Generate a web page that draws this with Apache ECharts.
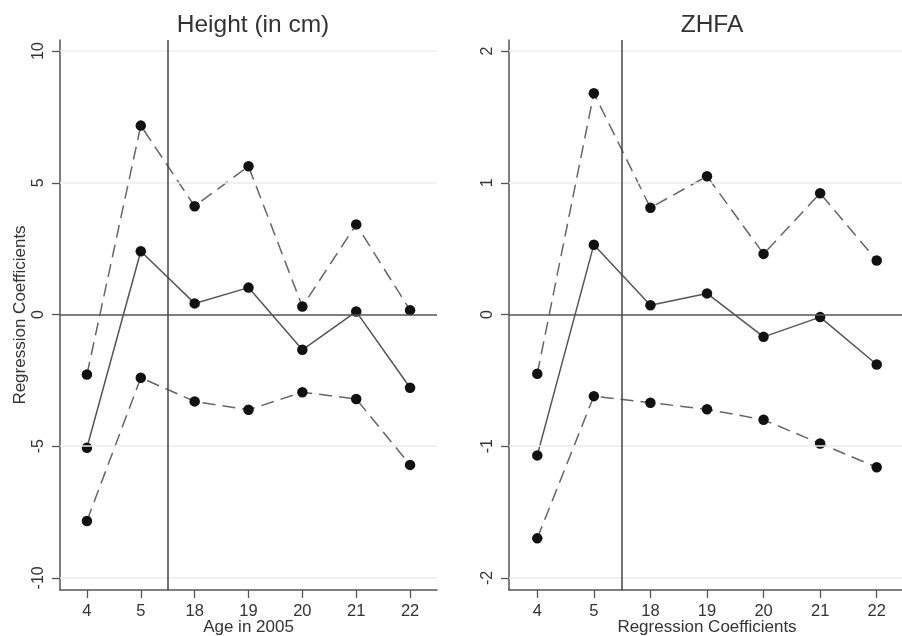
<!DOCTYPE html>
<html>
<head>
<meta charset="utf-8">
<script src="https://cdn.jsdelivr.net/npm/echarts@6/dist/echarts.min.js"></script>
<style>
html,body{margin:0;padding:0;background:#fff;}
#chart{width:902px;height:636px;}
</style>
</head>
<body>
<div id="chart"></div>
<script>
// ---- data ----
const categories = ['4', '5', '18', '19', '20', '21', '22'];
const heightUpper = [-2.28, 7.17, 4.11, 5.63, 0.30, 3.42, 0.16];
const heightMid   = [-5.06, 2.40, 0.42, 1.02, -1.34, 0.11, -2.78];
const heightLower = [-7.84, -2.40, -3.30, -3.62, -2.95, -3.21, -5.71];
const zhfaUpper = [-0.45, 1.68, 0.81, 1.05, 0.46, 0.92, 0.41];
const zhfaMid   = [-1.07, 0.53, 0.07, 0.16, -0.17, -0.02, -0.38];
const zhfaLower = [-1.70, -0.62, -0.67, -0.72, -0.80, -0.98, -1.16];
const heightTicks = [-10, -5, 0, 5, 10];
const zhfaTicks = [-2, -1, 0, 1, 2];
const dividerPos = 1.5; // between "5" and "18"
const titles = ['Height (in cm)', 'ZHFA'];
const xNames = ['Age in 2005', 'Regression Coefficients'];
const yName = 'Regression Coefficients';

// ---- build ----
const FONT = 'Liberation Sans';
const catIdx = categories.map((c, i) => i);
const pts = arr => arr.map((v, i) => [i, v]);

function makeX(gi, name) {
  return {
    type: 'value', gridIndex: gi, min: -0.5, max: categories.length - 0.5,
    name: name, nameLocation: 'middle', nameGap: 29, nameMoveOverlap: false,
    nameTextStyle: { fontFamily: FONT, fontSize: 17, color: '#333' },
    axisLine: { show: true, onZero: false, lineStyle: { color: '#555', width: 1.5 } },
    axisTick: { show: true, length: 8, customValues: catIdx, lineStyle: { color: '#555', width: 1.3 } },
    axisLabel: { customValues: catIdx, formatter: v => categories[Math.round(v)], fontFamily: FONT, fontSize: 16.5, color: '#333', margin: 13 },
    splitLine: { show: false }
  };
}
function makeY(gi, ticks, min, max, name) {
  return {
    type: 'value', gridIndex: gi, min: min, max: max,
    name: name || '', nameLocation: 'middle', nameGap: 31, nameRotate: 90, nameMoveOverlap: false,
    nameTextStyle: { fontFamily: FONT, fontSize: 17, color: '#333' },
    axisLine: { show: true, onZero: false, lineStyle: { color: '#555', width: 1.5 } },
    axisTick: { show: true, length: 8, customValues: ticks, lineStyle: { color: '#555', width: 1.3 } },
    axisLabel: { customValues: ticks, rotate: 90, fontFamily: FONT, fontSize: 16, color: '#333', margin: 13 },
    splitLine: { show: false }
  };
}
function refSeries(gi, ticks) {
  const data = ticks.filter(t => t !== 0).map(t => ({ yAxis: t, lineStyle: { color: '#ececec', width: 1.5, type: 'solid' } }));
  data.push({ yAxis: 0, lineStyle: { color: '#555', width: 1.5, type: 'solid' } });
  data.push({ xAxis: dividerPos, lineStyle: { color: '#444', width: 1.5, type: 'solid' } });
  return {
    type: 'line', xAxisIndex: gi, yAxisIndex: gi, data: [], z: 1, silent: true,
    markLine: { silent: true, symbol: ['none', 'none'], label: { show: false }, animation: false, data: data }
  };
}
function lineSeries(gi, arr, dashed) {
  return {
    type: 'line', xAxisIndex: gi, yAxisIndex: gi, data: pts(arr), z: 3,
    symbol: 'circle', symbolSize: 10.5,
    itemStyle: { color: '#111' },
    lineStyle: dashed ? { color: '#666', width: 1.5, type: [13, 7] } : { color: '#555', width: 1.5, type: 'solid' }
  };
}

const option = {
  animation: false,
  backgroundColor: '#fff',
  title: [
    { text: titles[0], left: 248, top: 8, textAlign: 'center', textStyle: { fontFamily: FONT, fontSize: 24.5, fontWeight: 'normal', color: '#333' } },
    { text: titles[1], left: 707, top: 8, textAlign: 'center', textStyle: { fontFamily: FONT, fontSize: 24.5, fontWeight: 'normal', color: '#333' } }
  ],
  grid: [
    { left: 60, top: 40, width: 377, height: 550, outerBoundsMode: 'none', containLabel: false },
    { left: 509, top: 40, width: 396, height: 550, outerBoundsMode: 'none', containLabel: false }
  ],
  xAxis: [makeX(0, xNames[0]), makeX(1, xNames[1])],
  yAxis: [makeY(0, heightTicks, -10.46, 10.42, yName), makeY(1, zhfaTicks, -2.092, 2.084, '')],
  series: [
    refSeries(0, heightTicks),
    refSeries(1, zhfaTicks),
    lineSeries(0, heightUpper, true),
    lineSeries(0, heightMid, false),
    lineSeries(0, heightLower, true),
    lineSeries(1, zhfaUpper, true),
    lineSeries(1, zhfaMid, false),
    lineSeries(1, zhfaLower, true)
  ]
};
const chart = echarts.init(document.getElementById('chart'), null, { renderer: 'canvas' });
chart.setOption(option);
</script>
</body>
</html>
